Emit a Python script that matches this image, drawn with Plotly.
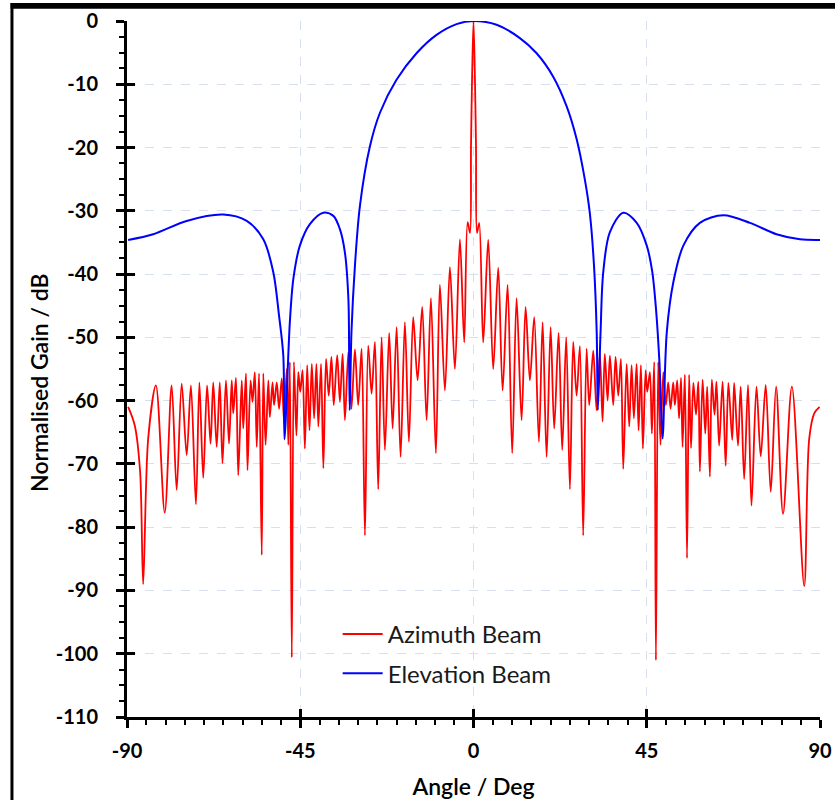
import plotly.graph_objects as go

# ---------------- data ----------------
# Azimuth beam (red): peaks / nulls (deg, dB)
az_angle = [
    -89.7, -88.0, -86.6, -85.8, -84.5, -82.5, -80.2, -78.4, -77.1, -75.8, -74.5, -73.4,
    -72.1, -71.2, -70.2, -69.2, -68.3, -67.6, -66.7, -65.9, -65.2, -64.3, -63.5, -62.8,
    -62.4, -61.7, -61.1, -60.2, -59.8, -59.1, -58.7, -57.9, -57.4, -56.8, -56.3, -55.7,
    -55.0, -54.6, -54.0, -53.3, -52.9, -52.2, -51.8, -51.1, -50.5, -49.8, -49.2, -48.5,
    -48.1, -47.7, -47.2, -46.65, -46.0, -45.5, -45.0, -44.4, -43.8, -43.2, -42.6, -42.0,
    -41.4, -40.8, -40.3, -39.6, -39.0, -38.3, -37.6, -36.9, -36.3, -35.4, -34.7, -34.0,
    -33.4, -32.5, -31.7, -30.8, -29.95, -29.06, -28.2, -27.35, -26.47, -25.6, -24.75, -23.87,
    -23.01, -21.9, -21.01, -19.97, -18.94, -17.82, -16.78, -15.66, -14.52, -13.32, -12.18, -11.06,
    -9.77, -8.73, -7.42, -6.13, -4.83, -3.53, -2.41, -1.53, -0.9, -0.65, -0.4, 0.0,
    0.4, 0.65, 0.9, 1.48, 2.52, 3.82, 5.12, 6.42, 7.56, 8.86, 10.05, 11.19,
    12.49, 13.53, 14.65, 15.77, 16.99, 17.95, 18.99, 20.03, 20.96, 22.1, 23.04, 24.08,
    25.04, 25.9, 26.78, 27.64, 28.49, 29.37, 30.06, 31.1, 31.97, 32.83, 33.52, 34.1,
    34.83, 35.43, 36.29, 36.9, 37.6, 38.29, 38.89, 39.77, 40.45, 41.06, 41.66, 42.36,
    42.88, 43.48, 44.0, 44.7, 45.12, 45.82, 46.34, 46.94, 47.38, 47.97, 48.57, 49.3,
    49.97, 50.57, 51.19, 51.87, 52.31, 52.9, 53.4, 53.9, 54.3, 54.9, 55.46, 56.0,
    56.5, 57.1, 57.8, 58.4, 58.8, 59.5, 60.2, 60.7, 61.4, 61.9, 62.6, 63.1,
    63.8, 64.7, 65.5, 66.2, 67.2, 67.7, 68.7, 69.4, 70.3, 71.3, 72.2, 73.5,
    74.6, 75.9, 77.2, 78.6, 80.4, 82.7, 85.9, 87.2, 88.5, 89.9,
]
az_gain = [
    -61.0, -63.9, -71.2, -89.0, -66.0, -57.6, -77.7, -57.6, -74.1, -57.3, -68.6, -57.6,
    -76.4, -57.1, -72.2, -57.6, -66.8, -57.1, -67.3, -57.1, -69.9, -56.8, -66.8, -56.8,
    -62.0, -56.4, -71.8, -56.8, -64.4, -55.7, -71.0, -56.8, -60.2, -55.5, -67.3, -55.7,
    -84.4, -55.7, -67.0, -56.8, -62.6, -57.1, -60.7, -57.1, -61.3, -56.5, -63.4, -55.0,
    -67.0, -53.9, -100.6, -53.9, -65.5, -55.5, -58.6, -55.2, -67.6, -54.4, -64.7, -54.2,
    -62.8, -54.2, -64.1, -54.2, -70.7, -53.4, -59.2, -53.1, -60.7, -52.8, -60.2, -52.6,
    -63.1, -52.3, -61.3, -51.9, -60.7, -51.8, -81.3, -51.3, -58.9, -50.7, -74.0, -50.0,
    -67.8, -49.3, -64.4, -48.4, -68.9, -47.6, -66.5, -46.8, -56.8, -45.2, -63.1, -43.8,
    -68.3, -41.7, -58.4, -38.9, -55.0, -34.5, -50.8, -31.8, -33.5, -20.0, -10.0, 0.0,
    -10.0, -20.0, -33.5, -31.9, -50.8, -34.6, -55.0, -39.0, -58.4, -41.7, -68.3, -43.8,
    -63.1, -45.2, -56.8, -46.8, -66.5, -47.6, -68.9, -48.4, -64.4, -49.3, -67.8, -50.0,
    -74.0, -50.7, -59.2, -51.4, -81.3, -51.8, -60.7, -52.1, -61.5, -52.6, -63.3, -52.6,
    -60.0, -52.9, -60.7, -53.1, -59.2, -53.4, -70.8, -54.2, -64.1, -54.4, -62.8, -54.2,
    -64.7, -54.4, -67.6, -55.2, -58.6, -55.5, -65.2, -53.9, -101.0, -53.9, -67.0, -55.5,
    -60.7, -57.1, -61.3, -57.1, -60.7, -56.8, -62.8, -56.4, -67.3, -55.9, -84.9, -55.9,
    -67.5, -57.2, -62.2, -57.0, -71.2, -56.7, -65.2, -57.8, -72.0, -56.7, -62.2, -57.0,
    -67.1, -57.0, -70.3, -57.2, -66.2, -57.2, -67.1, -57.8, -72.4, -57.5, -76.6, -57.8,
    -68.8, -57.5, -74.4, -57.8, -77.9, -57.8, -89.3, -66.0, -62.0, -61.0,
]

# Elevation beam (blue): points (deg, dB)
el_angle = [
    -89.7, -83.2, -74.5, -65.0, -58.9, -54.6, -52.0, -50.5, -49.4, -49.1, -47.7, -46.8,
    -45.1, -42.5, -39.0, -36.4, -34.7, -33.4, -32.5, -32.3, -32.15, -31.7, -30.8, -29.5,
    -26.9, -24.3, -20.0, -14.8, -9.6, -4.4, 0.0, 6.0, 12.05, 16.4, 20.7, 24.2,
    26.8, 28.9, 30.2, 31.3, 32.0, 32.3, 33.0, 33.7, 35.4, 38.9, 42.4, 45.0,
    46.4, 47.4, 48.3, 49.1, 50.2, 51.9, 54.5, 58.8, 64.9, 71.8, 78.7, 84.8, 90.0,
]
el_gain = [
    -34.6, -33.7, -31.6, -30.6, -31.6, -34.5, -39.7, -46.6, -52.9, -66.1, -47.6, -40.8,
    -35.5, -32.1, -30.3, -30.8, -32.9, -36.6, -43.9, -52.9, -61.5, -49.2, -38.7, -29.2,
    -19.8, -14.5, -9.3, -5.1, -2.2, -0.5, 0.0, -0.6, -2.7, -5.1, -8.8, -13.5,
    -18.7, -25.0, -30.3, -38.7, -49.2, -61.5, -49.2, -39.7, -33.4, -30.3, -31.9, -35.5,
    -39.5, -45.5, -54.0, -66.0, -49.2, -41.3, -35.5, -31.9, -30.7, -31.9, -33.7, -34.5, -34.6,
]

x_ticks = [-90, -45, 0, 45, 90]
x_labels = ["-90", "-45", "0", "45", "90"]
y_ticks = [0, -10, -20, -30, -40, -50, -60, -70, -80, -90, -100, -110]
y_labels = ["0", "-10", "-20", "-30", "-40", "-50", "-60", "-70", "-80", "-90", "-100", "-110"]
y_title = "Normalised Gain / dB"
x_title = "Angle / Deg"

FONT = "Lato"

fig = go.Figure()
fig.add_trace(go.Scatter(
    x=az_angle, y=az_gain, mode="lines", name="Azimuth Beam",
    line=dict(color="#ff0000", width=1.8, shape="spline", smoothing=0.9),
    legendgroup="az",
))
fig.add_trace(go.Scatter(
    x=el_angle, y=el_gain, mode="lines", name="Elevation Beam",
    line=dict(color="#0000ff", width=2, shape="spline", smoothing=0.9),
    legendgroup="el",
))

grid = "#d6e0ee"
frame = dict(color="black", width=3)
fig.update_layout(
    width=835, height=800,
    paper_bgcolor="white", plot_bgcolor="white",
    margin=dict(l=127, r=15, t=21, b=83, autoexpand=False),
    font=dict(family=FONT, color="black"),
    showlegend=True,
    legend=dict(
        x=0.304, y=0.151, xanchor="left", yanchor="top",
        bgcolor="rgba(0,0,0,0)", font=dict(family=FONT, size=24, color="#1a1a1a"),
        traceorder="grouped", tracegroupgap=5, itemwidth=40,
    ),
    xaxis=dict(
        range=[-90, 90], tickvals=x_ticks, ticktext=x_labels,
        showline=True, linecolor="black", linewidth=3,
        ticks="outside", ticklen=8, tickwidth=2.5, tickcolor="black",
        minor=dict(ticks="outside", ticklen=5, tickwidth=2, tickcolor="black", dtick=5,
                   tick0=-90, showgrid=False),
        showgrid=True, gridcolor=grid, griddash="dash", gridwidth=1,
        zeroline=False,
        tickfont=dict(family=FONT, size=20, weight="bold"),
        ticklabelstandoff=6,
        title=dict(text=x_title, font=dict(family=FONT, size=23, weight=600), standoff=19),
    ),
    yaxis=dict(
        range=[-110, 0], tickvals=y_ticks, ticktext=y_labels,
        showline=True, linecolor="black", linewidth=3,
        ticks="outside", ticklen=8, tickwidth=2.5, tickcolor="black",
        minor=dict(ticks="outside", ticklen=5, tickwidth=2, tickcolor="black", dtick=2.5,
                   tick0=0, showgrid=False),
        showgrid=True, gridcolor=grid, griddash="dash", gridwidth=1,
        zeroline=False,
        tickfont=dict(family=FONT, size=20, weight="bold"),
        ticklabelstandoff=14,
    ),
    xaxis2=dict(
        range=[-90, 90], overlaying="x", anchor="y2", tickvals=x_ticks,
        showticklabels=False, showgrid=False, showline=False, zeroline=False,
        ticks="inside", ticklen=8, tickwidth=2.5, tickcolor="black",
    ),
    yaxis2=dict(
        range=[-110, 0], overlaying="y", anchor="x2", tickvals=y_ticks,
        showticklabels=False, showgrid=False, showline=False, zeroline=False,
        ticks="inside", ticklen=8, tickwidth=2.5, tickcolor="black",
    ),
    annotations=[dict(
        text=y_title, textangle=-90, showarrow=False,
        xref="paper", yref="paper", x=-0.126, y=0.481,
        xanchor="center", yanchor="middle",
        font=dict(family=FONT, size=23, weight=600, color="black"),
    )],
    shapes=[
        # outer frame around the whole chart (top and left edges)
        dict(type="rect", xref="paper", yref="paper", x0=-0.168, x1=1.05, y0=1.0175, y1=1.026,
             line=dict(width=0), fillcolor="black", layer="above"),
        dict(type="line", xref="paper", yref="paper", x0=-0.166, x1=-0.166, y0=-0.15, y1=1.026,
             line=frame, layer="above"),
    ],
)
# invisible carrier so the overlay tick axes are drawn
fig.add_trace(go.Scatter(x=[], y=[], xaxis="x2", yaxis="y2", showlegend=False, hoverinfo="skip"))

fig.write_html(
    "out.html",
    config={"displayModeBar": False},
    post_script="document.body.style.margin='0px';document.body.style.overflow='hidden';",
)
